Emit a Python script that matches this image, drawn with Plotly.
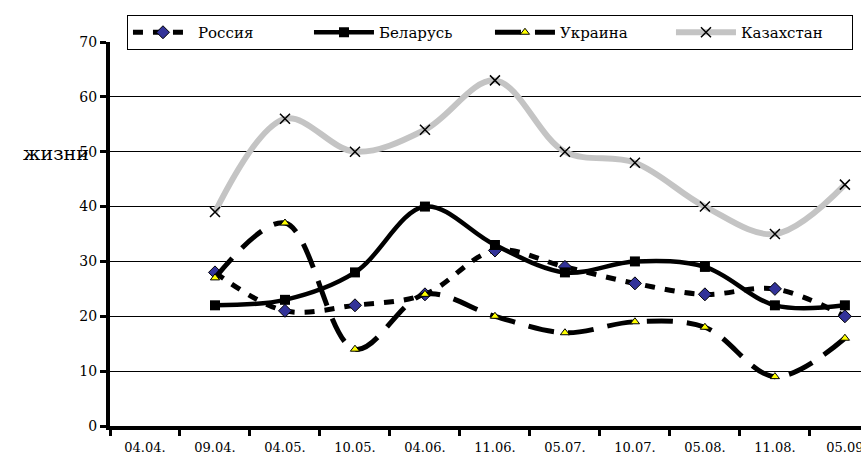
import plotly.graph_objects as go

categories = ["04.04.", "09.04.", "04.05.", "10.05.", "04.06.", "11.06.",
              "05.07.", "10.07.", "05.08.", "11.08.", "05.09"]
russia = [None, 28, 21, 22, 24, 32, 29, 26, 24, 25, 20]
belarus = [None, 22, 23, 28, 40, 33, 28, 30, 29, 22, 22]
ukraine = [None, 27, 37, 14, 24, 20, 17, 19, 18, 9, 16]
kazakhstan = [None, 39, 56, 50, 54, 63, 50, 48, 40, 35, 44]
y_ticks = [0, 10, 20, 30, 40, 50, 60, 70]

FONT = "DejaVu Serif, Noto Serif, Liberation Serif, serif"

fig = go.Figure()
fig.add_trace(go.Scatter(
    x=categories, y=russia, name="Россия", mode="lines+markers",
    line=dict(color="black", width=5, dash="10px,10px", shape="spline", smoothing=1),
    marker=dict(symbol="diamond", size=10, color="#333399", line=dict(color="black", width=1)),
))
fig.add_trace(go.Scatter(
    x=categories, y=belarus, name="Беларусь", mode="lines+markers",
    line=dict(color="black", width=4.5, shape="spline", smoothing=1),
    marker=dict(symbol="square", size=10, color="black"),
))
fig.add_trace(go.Scatter(
    x=categories, y=ukraine, name="Украина", mode="lines+markers",
    line=dict(color="black", width=5, dash="26px,14px", shape="spline", smoothing=1),
    marker=dict(symbol="triangle-up", size=8, color="#ffff00", line=dict(color="black", width=1)),
))
fig.add_trace(go.Scatter(
    x=categories, y=kazakhstan, name="Казахстан", mode="lines+markers",
    line=dict(color="#c4c4c4", width=6, shape="spline", smoothing=1),
    marker=dict(symbol="x-thin", size=10, color="black", line=dict(color="black", width=1.5)),
))

fig.add_annotation(
    text="жизни", xref="paper", yref="paper", x=-0.072, y=0.711,
    xanchor="center", yanchor="middle", showarrow=False,
    font=dict(family=FONT, size=19, color="black"),
)

fig.update_layout(
    width=861, height=457,
    margin=dict(l=110, r=0, t=42, b=31, autoexpand=False),
    paper_bgcolor="white", plot_bgcolor="white",
    font=dict(family=FONT, size=13, color="black"),
    showlegend=True,
    legend=dict(
        orientation="h", x=0.0226, y=1.0703, xanchor="left", yanchor="top",
        bgcolor="white", bordercolor="black", borderwidth=1,
        font=dict(family=FONT, size=15, color="black"),
        itemwidth=60, entrywidth=106, traceorder="normal",
    ),
    xaxis=dict(
        type="category", categoryorder="array", categoryarray=categories,
        range=[-0.5, 10.23], showline=True, linecolor="black", linewidth=4,
        ticks="outside", tickson="boundaries", ticklen=6, tickwidth=3, tickcolor="black",
        ticklabelstandoff=6,
        showgrid=False, zeroline=False, tickfont=dict(family=FONT, size=13, color="black"),
    ),
    yaxis=dict(
        range=[0, 70], tickvals=y_ticks, showline=True, linecolor="black", linewidth=4,
        ticks="outside", ticklen=6, tickwidth=3, tickcolor="black",
        showgrid=True, gridcolor="black", gridwidth=1, zeroline=False,
        tickfont=dict(family=FONT, size=14, color="black"),
    ),
)

fig.write_html(
    "out.html",
    config={"displayModeBar": False},
    post_script="document.body.style.margin='0';document.body.style.padding='0';",
)
